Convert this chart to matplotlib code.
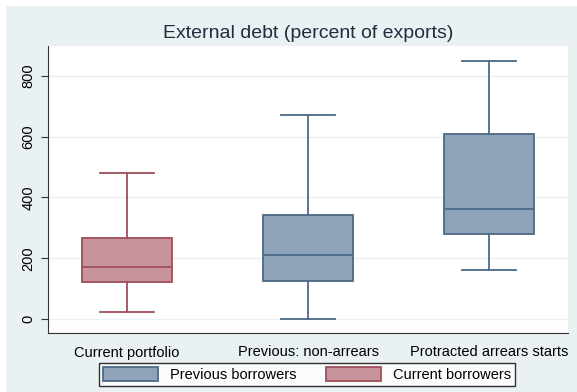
import matplotlib.pyplot as plt
from matplotlib.patches import Rectangle, Patch

plt.rcParams["font.family"] = ["Liberation Sans", "DejaVu Sans"]

# box statistics read per group
groups = ["Current portfolio", "Previous: non-arrears", "Protracted arrears starts"]
whislo = [23, 0, 161]
q1 = [123, 126, 280]
med = [172, 210, 362]
q3 = [266, 342, 608]
whishi = [480, 671, 849]
is_current = [True, False, False]

red_fill, red_edge = "#C8939A", "#9E4F58"
blue_fill, blue_edge = "#8EA3B8", "#4B6A88"
bg = "#EAF1F3"

fig = plt.figure(figsize=(5.77, 3.92), dpi=100, facecolor="white")
fig.patches.append(Rectangle((6 / 577, 0), 1, 1 - 6 / 392, transform=fig.transFigure,
                             facecolor=bg, edgecolor="none", zorder=-5))
ax = fig.add_axes([48 / 577, 1 - 333 / 392, 520 / 577, 287 / 392])
ax.set_zorder(1)
ax.set_facecolor("white")

stats = []
for i in range(3):
    stats.append(dict(whislo=whislo[i], q1=q1[i], med=med[i], q3=q3[i],
                      whishi=whishi[i], fliers=[]))

for i, s in enumerate(stats):
    fc, ec = (red_fill, red_edge) if is_current[i] else (blue_fill, blue_edge)
    ax.bxp([s], positions=[i + 1], widths=0.5, patch_artist=True, capwidths=0.3,
           boxprops=dict(facecolor=fc, edgecolor=ec, linewidth=1.3),
           medianprops=dict(color=ec, linewidth=1.3),
           whiskerprops=dict(color=ec, linewidth=1.3),
           capprops=dict(color=ec, linewidth=1.3), showfliers=False)

ax.set_xlim(0.564, 3.436)
ax.set_ylim(-46, 898)
ax.set_yticks([0, 200, 400, 600, 800])
ax.set_yticklabels(["0", "200", "400", "600", "800"], rotation=90, va="center", fontsize=10.5)
ax.set_xticks([1, 2, 3])
ax.set_xticklabels(groups, fontsize=10.5)
ax.tick_params(axis="x", length=0, pad=9)
ax.tick_params(axis="y", length=5, color="#333333", pad=4)
ax.grid(axis="y", color=bg, linewidth=1)
ax.set_axisbelow(True)
for side in ["top", "right"]:
    ax.spines[side].set_visible(False)
for side in ["left", "bottom"]:
    ax.spines[side].set_color("#333333")

fig.text(308 / 577, 1 - 33 / 392, "External debt (percent of exports)",
         ha="center", va="center", fontsize=14, color="#1f2d3d")

handles = [Patch(facecolor=blue_fill, edgecolor=blue_edge, linewidth=1.3),
           Patch(facecolor=red_fill, edgecolor=red_edge, linewidth=1.3)]
leg = fig.legend(handles, ["Previous borrowers", "Current borrowers"], ncol=2,
                 loc="center", bbox_to_anchor=(307 / 577, 1 - 374.5 / 392),
                 fontsize=10.5, frameon=True, fancybox=False, handlelength=3.8,
                 handleheight=1.1, columnspacing=2.0, borderpad=0.3)
leg.get_frame().set_edgecolor("black")
leg.get_frame().set_linewidth(1)
leg.get_frame().set_facecolor("white")

fig.savefig("out.png", dpi=100, facecolor=fig.get_facecolor())
